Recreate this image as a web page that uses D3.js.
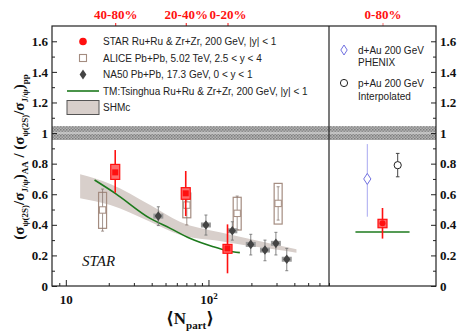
<!DOCTYPE html>
<html lang="en">
<head>
<meta charset="UTF-8">
<title>psi(2S) double ratio</title>
<script src="https://cdn.jsdelivr.net/npm/d3@7"></script>
<style>
    body { margin: 0; background: #fff; }
    svg text { font-family: "Liberation Serif", "DejaVu Serif", serif; }
    .tick text { font-weight: bold; font-size: 13px; fill: #111; }
    .leg { font-family: "Liberation Sans", Arial, sans-serif; font-size: 10px; fill: #222; }
</style>
</head>
<body>
<svg id="chart" width="464" height="333"></svg>
<script>
// STAR Ru+Ru & Zr+Zr, 200 GeV
var starNpart = [22.2, 69.3, 136],
    starVal = [0.743, 0.606, 0.246],
    starStatHi = [0.889, 0.752, 0.403],
    starStatLo = [0.61, 0.457, 0.083],
    starSysHi = [0.795, 0.643, 0.272],
    starSysLo = [0.697, 0.567, 0.214],
    centLabels = ["40-80%", "20-40%", "0-20%"];

// ALICE Pb+Pb 5.02 TeV
var aliceNpart = [18.1, 70.5, 159, 308],
    aliceVal = [0.497, 0.529, 0.475, 0.54],
    aliceStatHi = [0.634, 0.627, 0.588, 0.649],
    aliceStatLo = [0.359, 0.399, 0.368, 0.431],
    aliceSysHi = [0.612, 0.608, 0.58, 0.671],
    aliceSysLo = [0.377, 0.446, 0.366, 0.405];

// NA50 Pb+Pb 17.3 GeV
var na50Npart = [44.5, 96, 147, 198, 249, 297, 354],
    na50Val = [0.457, 0.399, 0.361, 0.272, 0.235, 0.279, 0.175],
    na50Hi = [0.518, 0.464, 0.42, 0.338, 0.30, 0.351, 0.246],
    na50Lo = [0.395, 0.333, 0.30, 0.203, 0.165, 0.203, 0.1];

// TM Tsinghua curve
var tmNpart = [15.9, 22.2, 39, 54, 74, 108, 136, 166],
    tmVal = [0.693, 0.606, 0.442, 0.377, 0.312, 0.257, 0.231, 0.218];

// SHMc band
var shmNpart = [12.6, 20.5, 39, 63, 120, 185, 297, 414],
    shmLo = [0.573, 0.529, 0.42, 0.335, 0.294, 0.265, 0.238, 0.218],
    shmHi = [0.73, 0.667, 0.529, 0.42, 0.351, 0.312, 0.269, 0.24];

// right panel (0-80%, small systems)
var rightCats = ["dAu", "STAR", "pAu"],
    dAu = {val: 0.70, hi: 0.928, lo: 0.453},
    pAu = {val: 0.79, hi: 0.867, lo: 0.714},
    starMB = {val: 0.41, hi: 0.51, lo: 0.31, sysHi: 0.436, sysLo: 0.381},
    tmMB = 0.353;

var yMajor = [0, 0.2, 0.4, 0.6, 0.8, 1, 1.2, 1.4, 1.6],
    yMinor = d3.range(0.1, 1.7, 0.2),
    xMajor = [10, 100],
    xMinor = [9, 20, 30, 40, 50, 60, 70, 80, 90, 200, 300, 400, 500, 600, 700];

var svg = d3.select("#chart");

var x = d3.scaleLog().domain([8, 700]).range([52, 329]),
    y = d3.scaleLinear().domain([0, 1.7]).range([286, 26]),
    xr = d3.scalePoint().domain(rightCats).range([329, 436]).padding(2.52);

var red = "#ff1010", brown = "#a48c80";

// hatched reference band
var defs = svg.append("defs");
var pat = defs.append("pattern").attr("id", "hatch")
    .attr("width", 3).attr("height", 3).attr("patternUnits", "userSpaceOnUse");
pat.append("rect").attr("width", 3).attr("height", 3).attr("fill", "#b4b4b4");
pat.append("rect").attr("width", 1.5).attr("height", 1.5).attr("fill", "#7c7c7c");
pat.append("rect").attr("x", 1.5).attr("y", 1.5).attr("width", 1.5).attr("height", 1.5).attr("fill", "#8c8c8c");

svg.append("rect")
    .attr("x", 52).attr("width", 436 - 52)
    .attr("y", y(1.045)).attr("height", y(0.955) - y(1.045))
    .attr("fill", "url(#hatch)");
svg.append("line")
    .attr("x1", 52).attr("x2", 436).attr("y1", y(1)).attr("y2", y(1))
    .attr("stroke", "#cfcfcf").attr("stroke-width", 1.4);

// SHMc band
var band = d3.area()
    .x(function(d, i) { return x(shmNpart[i]); })
    .y0(function(d, i) { return y(shmLo[i]); })
    .y1(function(d, i) { return y(shmHi[i]); })
    .curve(d3.curveMonotoneX);
svg.append("path").datum(shmNpart).attr("d", band).attr("fill", "#d8cfcb");

// TM line
var tmLine = d3.line()
    .x(function(d, i) { return x(tmNpart[i]); })
    .y(function(d, i) { return y(tmVal[i]); })
    .curve(d3.curveMonotoneX);
svg.append("path").datum(tmNpart).attr("d", tmLine)
    .attr("fill", "none").attr("stroke", "#1d7a1d").attr("stroke-width", 1.6);

function errBar(g, cx, hi, lo, color, w, cap) {
    g.append("line").attr("x1", cx).attr("x2", cx).attr("y1", y(hi)).attr("y2", y(lo))
        .attr("stroke", color).attr("stroke-width", w);
    if (cap) {
        [hi, lo].forEach(function(v) {
            g.append("line").attr("x1", cx - cap).attr("x2", cx + cap).attr("y1", y(v)).attr("y2", y(v))
                .attr("stroke", color).attr("stroke-width", w);
        });
    }
}

// ALICE
var gA = svg.append("g");
aliceNpart.forEach(function(n, i) {
    var cx = x(n);
    gA.append("rect").attr("x", cx - 4).attr("width", 8)
        .attr("y", y(aliceSysHi[i])).attr("height", y(aliceSysLo[i]) - y(aliceSysHi[i]))
        .attr("fill", "none").attr("stroke", brown).attr("stroke-width", 1.2);
    errBar(gA, cx, aliceStatHi[i], aliceStatLo[i], "#8a7a72", 0.8, 1.5);
    gA.append("rect").attr("x", cx - 3.2).attr("y", y(aliceVal[i]) - 3.2)
        .attr("width", 6.4).attr("height", 6.4)
        .attr("fill", "#fff").attr("stroke", brown).attr("stroke-width", 1);
});

// NA50
var gN = svg.append("g");
var diamond = function(cx, cy, w, h) {
    return "M" + cx + "," + (cy - h) + "L" + (cx + w) + "," + cy + "L" + cx + "," + (cy + h) + "L" + (cx - w) + "," + cy + "Z";
};
na50Npart.forEach(function(n, i) {
    var cx = x(n), cy = y(na50Val[i]);
    errBar(gN, cx, na50Hi[i], na50Lo[i], "#777", 0.9, 1.5);
    gN.append("rect").attr("x", cx - 5).attr("y", cy - 2.5).attr("width", 10).attr("height", 5)
        .attr("fill", "#9a9a9a");
    gN.append("path").attr("d", diamond(cx, cy, 3.6, 4.8)).attr("fill", "#444");
});

// STAR
var gS = svg.append("g");
starNpart.forEach(function(n, i) {
    var cx = x(n);
    errBar(gS, cx, starStatHi[i], starStatLo[i], red, 1.6, 0);
    gS.append("rect").attr("x", cx - 4.5).attr("width", 9)
        .attr("y", y(starSysHi[i])).attr("height", y(starSysLo[i]) - y(starSysHi[i]))
        .attr("fill", "#ff6a6a").attr("stroke", red).attr("stroke-width", 1.2);
    gS.append("rect").attr("x", cx - 3).attr("y", y(starVal[i]) - 3).attr("width", 6).attr("height", 6)
        .attr("fill", red);
});

// right panel points
var gR = svg.append("g");
errBar(gR, xr("dAu"), dAu.hi, dAu.lo, "#a8a8f0", 1, 0);
gR.append("path").attr("d", diamond(xr("dAu"), y(dAu.val), 3.6, 5.5))
    .attr("fill", "#fff").attr("stroke", "#7070e0").attr("stroke-width", 1);
errBar(gR, xr("pAu"), pAu.hi, pAu.lo, "#444", 1, 1.8);
gR.append("circle").attr("cx", xr("pAu")).attr("cy", y(pAu.val)).attr("r", 3.6)
    .attr("fill", "#fff").attr("stroke", "#222").attr("stroke-width", 1);
var stepR = xr.step();
gR.append("line").attr("x1", xr("STAR") - 1.78 * stepR).attr("x2", xr("STAR") + 1.78 * stepR)
    .attr("y1", y(tmMB)).attr("y2", y(tmMB)).attr("stroke", "#1d7a1d").attr("stroke-width", 1.6);
errBar(gR, xr("STAR"), starMB.hi, starMB.lo, red, 1.6, 0);
gR.append("rect").attr("x", xr("STAR") - 4.5).attr("width", 9)
    .attr("y", y(starMB.sysHi)).attr("height", y(starMB.sysLo) - y(starMB.sysHi))
    .attr("fill", "#ff6a6a").attr("stroke", red).attr("stroke-width", 1.2);
gR.append("circle").attr("cx", xr("STAR")).attr("cy", y(starMB.val)).attr("r", 3).attr("fill", red);

// axes
function clean(g) { g.select(".domain").remove(); g.selectAll("line").attr("stroke", "#222"); }

svg.append("g").attr("transform", "translate(52,0)")
    .call(d3.axisLeft(y).tickValues(yMajor).tickSize(-5).tickPadding(4).tickFormat(d3.format("~g")))
    .call(clean);
svg.append("g").attr("transform", "translate(52,0)")
    .call(d3.axisLeft(y).tickValues(yMinor).tickSize(-3).tickFormat(""))
    .call(clean);
svg.append("g").attr("transform", "translate(436,0)")
    .call(d3.axisRight(y).tickValues(yMajor).tickSize(-5).tickPadding(4).tickFormat(d3.format("~g")))
    .call(clean);
svg.append("g").attr("transform", "translate(436,0)")
    .call(d3.axisRight(y).tickValues(yMinor).tickSize(-3).tickFormat(""))
    .call(clean);

var xAx = svg.append("g").attr("transform", "translate(0,286)")
    .call(d3.axisBottom(x).tickValues(xMajor).tickSize(-6).tickPadding(9).tickFormat(""))
    .call(clean);
xAx.selectAll(".tick text").each(function(d) {
    var t = d3.select(this);
    if (d === 10) { t.text("10"); }
    else {
        t.append("tspan").text("10");
        t.append("tspan").attr("dy", -5).style("font-size", "9px").text("2");
    }
});
svg.append("g").attr("transform", "translate(0,286)")
    .call(d3.axisBottom(x).tickValues(xMinor).tickSize(-3).tickFormat(""))
    .call(clean);

// centrality ticks on top
var topAx = svg.append("g").attr("transform", "translate(0,26)")
    .call(d3.axisTop(x).tickValues(starNpart).tickSize(3).tickPadding(4)
        .tickFormat(function(d, i) { return centLabels[i]; }));
topAx.select(".domain").remove();
topAx.selectAll("line").attr("stroke", red);
topAx.selectAll("text").style("fill", red).style("font-size", "13px");

var topR = svg.append("g").attr("transform", "translate(0,26)")
    .call(d3.axisTop(xr).tickValues(["STAR"]).tickSize(3).tickPadding(4).tickFormat(function() { return "0-80%"; }));
topR.select(".domain").remove();
topR.selectAll("line").attr("stroke", "#ff7070");
topR.selectAll("text").style("fill", red).style("font-size", "13px");

// frames
svg.append("rect").attr("x", 52).attr("y", 26).attr("width", 436 - 52).attr("height", 260)
    .attr("fill", "none").attr("stroke", "#222").attr("stroke-width", 1.2);
svg.append("line").attr("x1", 329).attr("x2", 329).attr("y1", 26).attr("y2", 286)
    .attr("stroke", "#222").attr("stroke-width", 1.2);

// axis titles
var xt = svg.append("text").attr("x", 190).attr("y", 324).attr("text-anchor", "middle")
    .style("font-weight", "bold").style("font-size", "17px").style("fill", "#111");
xt.append("tspan").text("\u27E8N");
xt.append("tspan").attr("dy", 5).style("font-size", "11px").text("part");
xt.append("tspan").attr("dy", -5).text("\u27E9");

var titleParts = [["(\u03C3", 0], ["\u03C8(2S)", 1], ["/\u03C3", 0], ["J/\u03C8", 1], [")", 0], ["AA", 1],
    [" / (\u03C3", 0], ["\u03C8(2S)", 1], ["/\u03C3", 0], ["J/\u03C8", 1], [")", 0], ["pp", 1]];
var yt = svg.append("text").attr("transform", "translate(24,157) rotate(-90)")
    .attr("text-anchor", "middle").style("font-weight", "bold").style("fill", "#111");
var prev = 0;
titleParts.forEach(function(p) {
    yt.append("tspan").attr("dy", (p[1] - prev) * 4)
        .style("font-size", p[1] ? "9px" : "15px").text(p[0]);
    prev = p[1];
});
// squeeze the title to the length it has in the reference
var tl = yt.node().getComputedTextLength();
if (tl > 192) yt.attr("textLength", 192).attr("lengthAdjust", "spacingAndGlyphs");

svg.append("text").attr("x", 82).attr("y", 266)
    .style("font-style", "italic").style("font-size", "15px").style("fill", "#111").text("STAR");

// legend
var legRows = [41.5, 58, 74.5, 91, 107.5],
    legText = ["STAR Ru+Ru & Zr+Zr, 200 GeV, |y| < 1", "ALICE Pb+Pb, 5.02 TeV, 2.5 < y < 4",
        "NA50 Pb+Pb, 17.3 GeV, 0 < y < 1", "TM:Tsinghua Ru+Ru & Zr+Zr, 200 GeV, |y| < 1", "SHMc"];
var leg = svg.append("g");
leg.append("circle").attr("cx", 83).attr("cy", legRows[0]).attr("r", 3.8).attr("fill", red);
leg.append("rect").attr("x", 79.5).attr("y", legRows[1] - 3.5).attr("width", 7).attr("height", 7)
    .attr("fill", "#fff").attr("stroke", brown).attr("stroke-width", 1.1);
leg.append("path").attr("d", diamond(83, legRows[2], 3.4, 5)).attr("fill", "#444");
leg.append("line").attr("x1", 67).attr("x2", 99).attr("y1", legRows[3]).attr("y2", legRows[3])
    .attr("stroke", "#1d7a1d").attr("stroke-width", 1.6);
leg.append("rect").attr("x", 67).attr("y", legRows[4] - 7).attr("width", 32).attr("height", 14)
    .attr("fill", "#d8cfcb").attr("stroke", "#555").attr("stroke-width", 1);
legText.forEach(function(t, i) {
    leg.append("text").attr("class", "leg").attr("x", 103).attr("y", legRows[i] + 3.5).text(t);
});

var legR = svg.append("g");
legR.append("path").attr("d", diamond(344, 50, 3.2, 5)).attr("fill", "#fff")
    .attr("stroke", "#7070e0").attr("stroke-width", 1);
legR.append("circle").attr("cx", 344).attr("cy", 83).attr("r", 3.6).attr("fill", "#fff")
    .attr("stroke", "#222").attr("stroke-width", 1);
[["d+Au 200 GeV", 53.5], ["PHENIX", 66], ["p+Au 200 GeV", 86.5], ["Interpolated", 99.5]].forEach(function(t) {
    legR.append("text").attr("class", "leg").attr("x", 358).attr("y", t[1]).text(t[0]);
});
</script>
</body>
</html>
